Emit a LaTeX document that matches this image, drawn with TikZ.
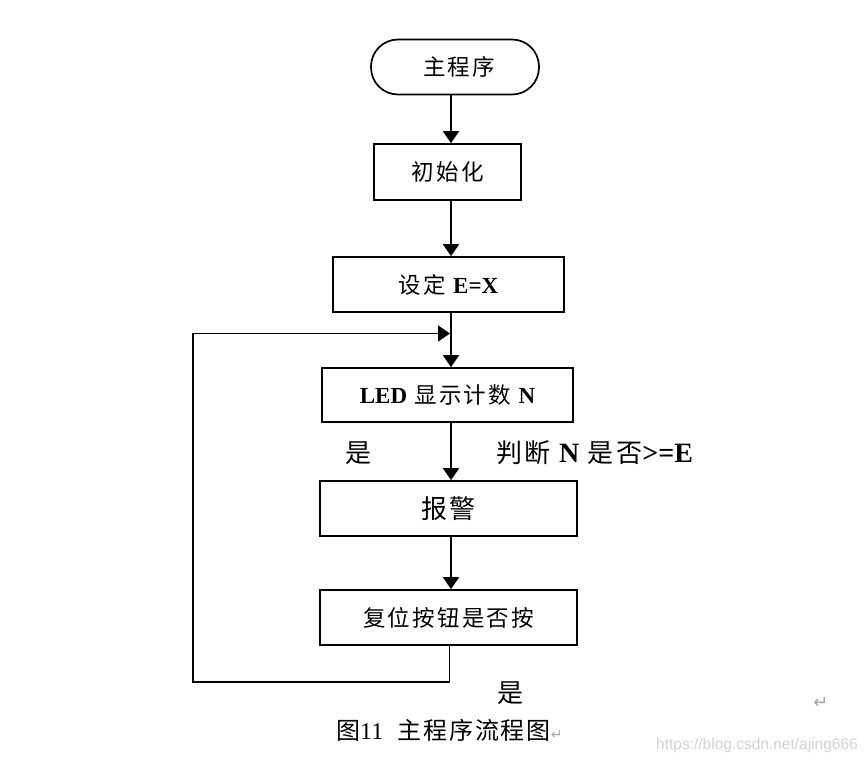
\documentclass[tikz,border=0pt]{standalone}
\usepackage{fontspec}
\setmainfont{Liberation Serif}
\newfontfamily\cjkf[LetterSpace=10]{Noto Sans CJK SC}
\newfontfamily\cjkc[LetterSpace=8]{Noto Sans CJK SC}
\newfontfamily\wmfont{Liberation Sans}
\newfontfamily\symf{DejaVu Sans}
\usetikzlibrary{arrows.meta}
\newcommand\ltb[1]{{\rmfamily\bfseries\fontsize{23}{26}\selectfont #1}}
\newcommand\ltl[1]{{\rmfamily\bfseries\fontsize{28}{30}\selectfont #1}}
\begin{document}
\begin{tikzpicture}[x=1pt,y=-1pt,
  box/.style={draw, line width=1.7pt, inner sep=0pt, font=\fontsize{22.5}{25}\selectfont\cjkf},
  arr/.style={line width=1.9pt, -{Triangle[length=12pt,width=16pt]}},
  lbl/.style={inner sep=0pt, font=\fontsize{26}{28}\selectfont\cjkf}]
\useasboundingbox[fill=white] (0,0) rectangle (865,763);

\node[box, rounded corners=27pt, minimum width=168pt, minimum height=55pt] (start) at (455,67) {\hspace*{8pt}主程序};
\node[box, minimum width=147pt, minimum height=56pt] (init) at (447.5,172) {初始化};
\node[box, minimum width=231pt, minimum height=55pt] (set) at (448.5,284.5) {设定 \ltb{E=X}};
\node[box, minimum width=251pt, minimum height=54pt] (led) at (447.5,395) {\ltb{LED} 显示计数 \ltb{N}};
\node[box, minimum width=257pt, minimum height=55pt, font=\fontsize{26}{28}\selectfont\cjkf] (alarm) at (448.5,508.5) {报警};
\node[box, minimum width=257pt, minimum height=55pt] (reset) at (448.5,617.5) {复位按钮是否按};

\coordinate (ax) at (451,0);
\draw[arr] (start.south -| ax) -- (init.north -| ax);
\draw[arr] (init.south -| ax) -- (set.north -| ax);
\draw[arr] (set.south -| ax) -- (led.north -| ax);
\draw[arr] (led.south -| ax) -- (alarm.north -| ax);
\draw[arr] (alarm.south -| ax) -- (reset.north -| ax);

\coordinate (lb) at (449.5,682);
\coordinate (lt) at (193,333.5);
\coordinate (lj) at (450,333.5);
\draw[arr, line width=1.7pt, line join=miter] (reset.south -| lb) -- (lb) -| (lt) -- (lj);

\node[lbl] (y1) at (358,453) {是};
\node[lbl, anchor=west] (q) at (496,453) {判断 \ltl{N} 是否\ltl{>=E}};
\node[lbl] (y2) at (510,693) {是};

\node[anchor=west, inner sep=0pt] (cap) at (336,730)
  {{\cjkc\fontsize{24}{26}\selectfont 图}{\fontsize{24}{26}\selectfont 11}\hspace{14pt}{\cjkc\fontsize{24}{26}\selectfont 主程序流程图}{\symf\fontsize{14}{16}\selectfont\color{gray!70}↵}};
\node[inner sep=0pt, text=gray!70, font=\symf\fontsize{18}{20}\selectfont] (ret) at (821,703) {↵};
\node[inner sep=0pt, anchor=east, text=gray!35, font=\wmfont\fontsize{15.5}{17}\selectfont] (wm) at (858,745) {https://blog.csdn.net/ajing666};
\end{tikzpicture}
\end{document}
